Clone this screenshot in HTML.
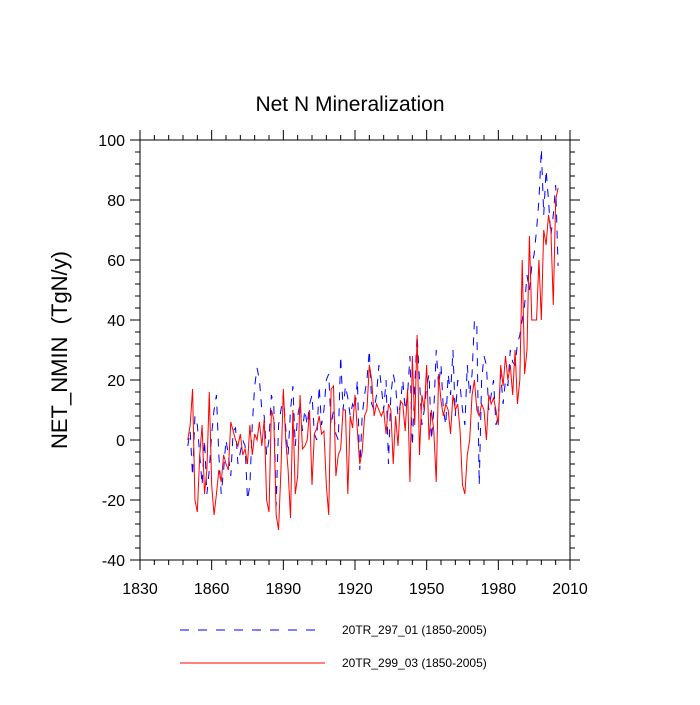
<!DOCTYPE html>
<html><head><meta charset="utf-8"><style>
body{margin:0;background:#fff;}
svg text{font-family:"Liberation Sans",sans-serif;fill:#000;}
</style></head><body>
<svg id="chart" width="700" height="700">
<text x="350" y="111" font-size="21" text-anchor="middle">Net N Mineralization</text>
<text transform="translate(67,350) rotate(-90)" font-size="22" text-anchor="middle" xml:space="preserve" style="white-space:pre">NET_NMIN  (TgN/y)</text>
<g id="axes"></g>
<g id="series"></g>
<g>
<line x1="180" y1="630" x2="322" y2="630" stroke="#00f" stroke-width="1" stroke-dasharray="9,9"/>
<text x="342" y="634" font-size="12">20TR_297_01 (1850-2005)</text>
<line x1="180" y1="663" x2="325" y2="663" stroke="#f00" stroke-width="1"/>
<text x="342" y="667" font-size="12">20TR_299_03 (1850-2005)</text>
</g>
</svg>
<script>
const startYear = 1850;
const xTicks = [1830,1860,1890,1920,1950,1980,2010];
const yTicks = [-40,-20,0,20,40,60,80,100];
const blueValues = [-2,3,-12,8,5,-5,-15,0,-18,-10,
2,10,15,-5,-18,-10,0,-5,-12,3,
4,-8,-4,0,-2,-20,-15,5,18,24,
20,10,8,-5,0,15,12,-22,5,10,
15,4,-5,10,18,-2,8,12,3,10,
5,12,15,2,0,18,5,10,20,22,
5,10,2,0,28,10,18,14,8,12,
10,20,-10,8,15,20,30,12,10,15,
25,18,10,20,-8,15,22,18,8,12,
20,10,15,28,-2,18,35,20,5,10,
18,22,0,10,30,18,25,10,5,22,
15,30,8,20,18,10,5,25,15,22,
40,38,-15,20,28,25,10,15,20,5,
8,22,12,20,18,30,26,25,32,35,
40,45,55,50,58,62,70,80,97,75,
90,80,68,75,85,58];
const redValues = [0,5,17,-20,-24,-5,5,-18,-10,16,
-15,-25,-18,-10,-14,-5,-8,-10,6,3,
0,-2,2,-5,-3,-8,5,-5,2,0,
6,-2,7,-20,-24,10,7,-25,-30,-10,
17,0,-10,-26,10,-18,-12,15,-3,-2,
0,10,-15,2,4,8,2,3,-15,-25,
17,18,-12,-5,-3,10,10,-18,8,4,
15,3,-8,-4,8,10,25,20,8,12,
10,8,10,2,12,10,-8,8,-2,13,
12,3,17,-14,28,5,35,-5,15,10,
25,0,10,3,-14,22,13,8,12,10,
2,15,10,12,3,-15,-18,-5,0,15,
20,10,8,12,10,0,15,12,14,10,
5,25,18,28,20,25,15,30,12,20,
60,22,30,68,40,40,40,60,40,70,
65,75,70,45,80,84];
const X0=140,X1=570,Y0=560,Y1=140;
const xs=v=>X0+(v-1830)/180*(X1-X0);
const ys=v=>Y0-(v+40)/140*(Y0-Y1);
const NS="http://www.w3.org/2000/svg";
const axes=document.getElementById('axes'), series=document.getElementById('series');
function mk(tag,attrs,parent){const e=document.createElementNS(NS,tag);for(const k in attrs)e.setAttribute(k,attrs[k]);parent.appendChild(e);return e;}
const frame=mk('rect',{x:X0,y:Y1,width:X1-X0,height:Y0-Y1,fill:'none',stroke:'#000','stroke-width':1},axes);


let d='';
for(let yr=1830;yr<=2010;yr+=6){const x=xs(yr);const L=(yr-1830)%30===0?10:5;d+=`M${x},${Y0}v${L}M${x},${Y1}v${-L}`;}
for(let v=-40;v<=100;v+=4){const y=ys(v);const L=(v+40)%20===0?10:5;d+=`M${X0},${y}h${-L}M${X1},${y}h${L}`;}
const tk=mk('path',{d:d,stroke:'#000','stroke-width':1,fill:'none'},axes);


xTicks.forEach(t=>{const e=mk('text',{x:xs(t),y:Y0+34,'font-size':16,'text-anchor':'middle'},axes);e.textContent=t;

});
yTicks.forEach(t=>{const e=mk('text',{x:X0-15,y:ys(t)+6,'font-size':16,'text-anchor':'end'},axes);e.textContent=t;

});
function line(vals,color,dash,name){const p=vals.map((v,i)=>`${xs(startYear+i).toFixed(2)},${ys(v).toFixed(2)}`).join(' ');
const attrs={points:p,fill:'none',stroke:color,'stroke-width':1};if(dash)attrs['stroke-dasharray']=dash;
const e=mk('polyline',attrs,series);

}
line(blueValues,'#00f','8,8','series-20tr-297-01');
line(redValues,'#f00',null,'series-20tr-299-03');
</script>
</body></html>
